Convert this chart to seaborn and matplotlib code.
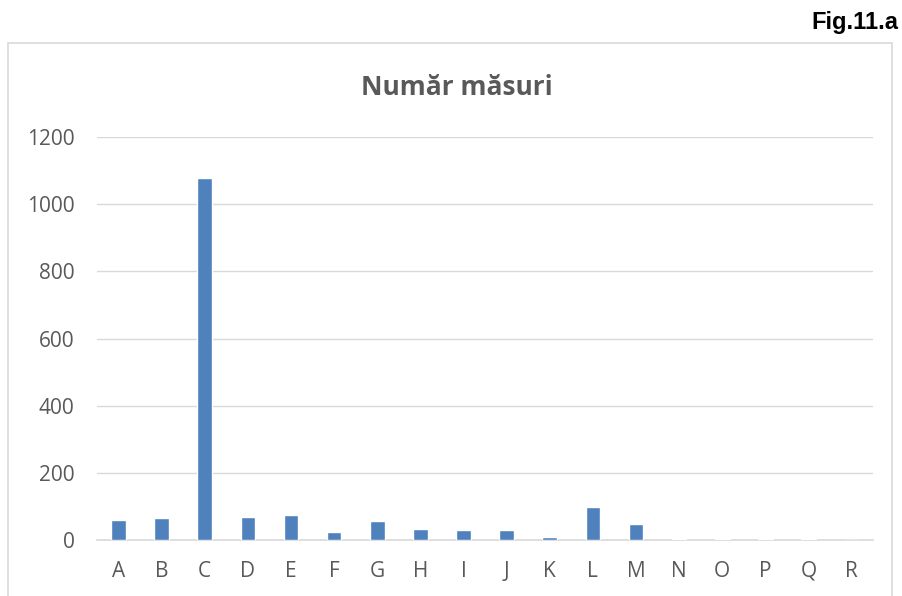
import matplotlib
matplotlib.use("Agg")
import matplotlib.pyplot as plt
import matplotlib.patches as mpatches
import seaborn as sns
import pandas as pd

# values
categories = ["A", "B", "C", "D", "E", "F", "G", "H", "I", "J",
              "K", "L", "M", "N", "O", "P", "Q", "R"]
counts = [60, 66, 1078, 67, 75, 25, 57, 34, 30, 30,
          10, 99, 47, 4, 4, 3, 2, 0]
y_ticks = [0, 200, 400, 600, 800, 1000, 1200]

df = pd.DataFrame({"cat": categories, "n": counts})

sns.set_theme(style="white")
plt.rcParams["font.family"] = ["Open Sans", "DejaVu Sans"]

fig = plt.figure(figsize=(9.02, 5.96), dpi=100)
ax = fig.add_axes([0.1075, 0.094, 0.8605, 0.676])

sns.barplot(data=df, x="cat", y="n", color="#4f81bd", width=0.34,
            saturation=1, ax=ax, zorder=3)

ax.set_ylim(0, 1200)
ax.set_yticks(y_ticks)
ax.set_xlim(-0.5, len(categories) - 0.5)
ax.grid(axis="y", color="#d9d9d9", linewidth=1)
ax.set_axisbelow(True)
for s in ["top", "right", "left"]:
    ax.spines[s].set_visible(False)
ax.spines["bottom"].set_color("#d9d9d9")
ax.spines["bottom"].set_linewidth(1.2)
ax.spines["bottom"].set_zorder(2)
ax.tick_params(axis="both", length=0, labelsize=15, labelcolor="#595959")
ax.tick_params(axis="y", pad=16)
ax.tick_params(axis="x", pad=15)
ax.set_xlabel("")
ax.set_ylabel("")

fig.text(0.506, 0.853, "Număr măsuri", ha="center", va="center",
         fontsize=19, fontweight="bold", color="#595959")
fig.text(0.996, 0.963, "Fig.11.a", ha="right", va="center",
         fontsize=17, fontweight="bold", color="black",
         family=["Liberation Sans Narrow", "Liberation Sans", "DejaVu Sans"])

# chart frame
frame = mpatches.Rectangle((8 / 902, -0.05), 884 / 902, 1 - 43 / 596 + 0.05,
                           transform=fig.transFigure, fill=False,
                           edgecolor="#d9d9d9", linewidth=1.2)
fig.patches.append(frame)

fig.savefig("out.png", dpi=100)
